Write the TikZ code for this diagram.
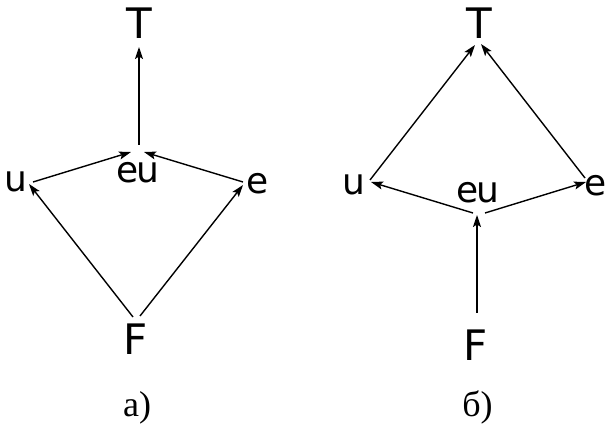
\documentclass[tikz,border=0pt]{standalone}
\usepackage{fontspec}
\newfontfamily\dvsans{DejaVu Sans}
\newfontfamily\lserif{Liberation Serif}
\usetikzlibrary{arrows.meta,calc}
\begin{document}
\begin{tikzpicture}[x=1pt,y=-1pt,
  low/.style={font=\dvsans\fontsize{36}{40}\selectfont, inner sep=0pt, outer sep=0pt},
  capl/.style={font=\dvsans\fontsize{42}{46}\selectfont, inner sep=0pt, outer sep=0pt},
  captn/.style={font=\lserif\fontsize{36}{40}\selectfont, inner sep=0pt, outer sep=0pt, anchor=base},
  arr/.style={-{Stealth[length=12pt,width=8pt,inset=2.5pt]}, line width=1.4pt}]
\fill[white] (0,0) rectangle (606,425);
\useasboundingbox (0,0) rectangle (606,425);
% ---- left diagram a)
\node[capl] (lT) at (139,23) {T};
\node[low] (lu) at (16,182) {u};
\node[low] (le) at (258,184) {e};
\node[low] (leu) at (138,172.5) {e\kern-2pt u};
\node[capl] (lF) at (135.5,339) {F};
\draw[arr] ($(leu)+(1,-27.5)$) -- ($(lT)+(0,24)$);
\draw[arr] ($(lu)+(17,0)$) -- ($(leu)+(-7,-20.5)$);
\draw[arr] ($(le)+(-15,-2)$) -- ($(leu)+(6,-20.5)$);
\draw[arr] ($(lF)+(-2.5,-22)$) -- ($(lu)+(13,2)$);
\draw[arr] ($(lF)+(4.5,-23)$) -- ($(le)+(-15,1)$);
\node[captn] (la) at (137,416) {a)};
% ---- right diagram б)
\node[capl] (rT) at (479,23) {T};
\node[low] (ru) at (354,185) {u};
\node[low] (re) at (596,186) {e};
\node[low] (reu) at (478,193) {e\kern-2pt u};
\node[capl] (rF) at (476,345.5) {F};
\draw[arr] ($(ru)+(16,-5)$) -- ($(rT)+(-4,22)$);
\draw[arr] ($(re)+(-11,-8)$) -- ($(rT)+(2,21)$);
\draw[arr] ($(reu)+(-5,20)$) -- ($(ru)+(17,-3)$);
\draw[arr] ($(reu)+(7,20)$) -- ($(re)+(-10,-4)$);
\draw[arr] ($(rF)+(1,-32.5)$) -- ($(reu)+(-1,22)$);
\node[captn] (rb) at (477.5,416) {б)};
\end{tikzpicture}
\end{document}
